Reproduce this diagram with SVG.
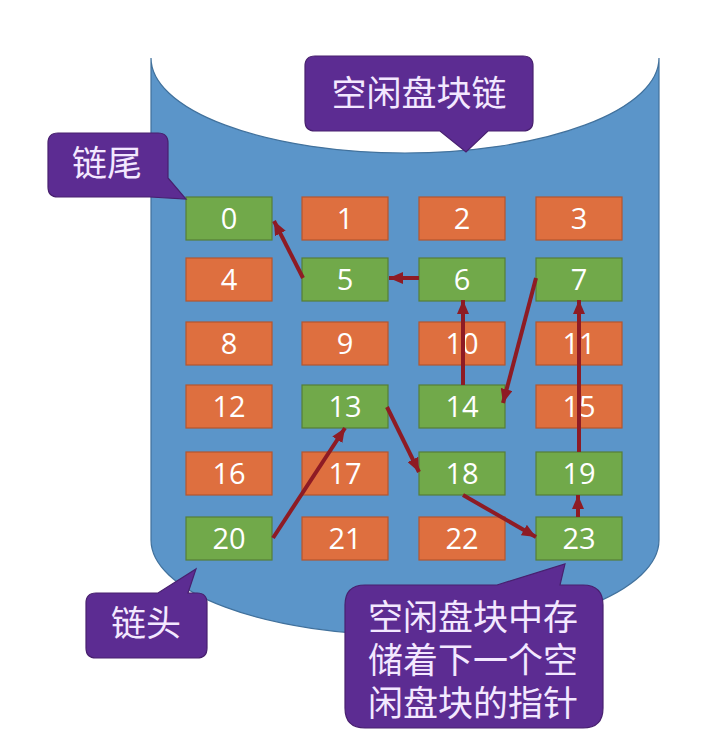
<svg xmlns="http://www.w3.org/2000/svg" width="711" height="743" viewBox="0 0 711 743">
<defs>
<style>
.box{stroke-width:1.2}
.o{fill:#DE6F3F;stroke:#B5552E}
.g{fill:#71A94A;stroke:#557F37}
.num{font-family:"Open Sans","Noto Sans",sans-serif;font-size:29px;fill:#FFFFFF;text-anchor:middle}
.call{fill:#5C2C92;stroke:#48206F;stroke-width:1.2}
.ct{font-family:"Noto Sans CJK SC","Noto Sans",sans-serif;font-size:35px;fill:#F3E8FF;text-anchor:middle}
.arr{stroke:#8E1B24;stroke-width:4;fill:none;marker-end:url(#ah)}
</style>
<marker id="ah" markerUnits="userSpaceOnUse" markerWidth="14" markerHeight="12" refX="14" refY="6" orient="auto">
<path d="M0,0 L14,6 L0,12 Z" fill="#8E1B24"/>
</marker>
</defs>
<rect width="711" height="743" fill="#FFFFFF"/>
<g id="cylinder">
<path d="M151,58 L151,540 A254,95 0 0 0 659,540 L659,58 A254,95 0 0 1 151,58 Z" fill="#5B95C9" stroke="#41719C" stroke-width="1.2"/>
</g>
<g id="b0"><rect class="box g" x="186" y="197" width="86" height="43"/><text class="num" x="229" y="229">0</text></g>
<g id="b1"><rect class="box o" x="302" y="197" width="86" height="43"/><text class="num" x="345" y="229">1</text></g>
<g id="b2"><rect class="box o" x="419" y="197" width="86" height="43"/><text class="num" x="462" y="229">2</text></g>
<g id="b3"><rect class="box o" x="536" y="197" width="86" height="43"/><text class="num" x="579" y="229">3</text></g>
<g id="b4"><rect class="box o" x="186" y="258" width="86" height="43"/><text class="num" x="229" y="290">4</text></g>
<g id="b5"><rect class="box g" x="302" y="258" width="86" height="43"/><text class="num" x="345" y="290">5</text></g>
<g id="b6"><rect class="box g" x="419" y="258" width="86" height="43"/><text class="num" x="462" y="290">6</text></g>
<g id="b7"><rect class="box g" x="536" y="258" width="86" height="43"/><text class="num" x="579" y="290">7</text></g>
<g id="b8"><rect class="box o" x="186" y="322" width="86" height="43"/><text class="num" x="229" y="354">8</text></g>
<g id="b9"><rect class="box o" x="302" y="322" width="86" height="43"/><text class="num" x="345" y="354">9</text></g>
<g id="b10"><rect class="box o" x="419" y="322" width="86" height="43"/><text class="num" x="462" y="354">10</text></g>
<g id="b11"><rect class="box o" x="536" y="322" width="86" height="43"/><text class="num" x="579" y="354">11</text></g>
<g id="b12"><rect class="box o" x="186" y="385" width="86" height="43"/><text class="num" x="229" y="417">12</text></g>
<g id="b13"><rect class="box g" x="302" y="385" width="86" height="43"/><text class="num" x="345" y="417">13</text></g>
<g id="b14"><rect class="box g" x="419" y="385" width="86" height="43"/><text class="num" x="462" y="417">14</text></g>
<g id="b15"><rect class="box o" x="536" y="385" width="86" height="43"/><text class="num" x="579" y="417">15</text></g>
<g id="b16"><rect class="box o" x="186" y="452" width="86" height="43"/><text class="num" x="229" y="484">16</text></g>
<g id="b17"><rect class="box o" x="302" y="452" width="86" height="43"/><text class="num" x="345" y="484">17</text></g>
<g id="b18"><rect class="box g" x="419" y="452" width="86" height="43"/><text class="num" x="462" y="484">18</text></g>
<g id="b19"><rect class="box g" x="536" y="452" width="86" height="43"/><text class="num" x="579" y="484">19</text></g>
<g id="b20"><rect class="box g" x="186" y="517" width="86" height="43"/><text class="num" x="229" y="549">20</text></g>
<g id="b21"><rect class="box o" x="302" y="517" width="86" height="43"/><text class="num" x="345" y="549">21</text></g>
<g id="b22"><rect class="box o" x="419" y="517" width="86" height="43"/><text class="num" x="462" y="549">22</text></g>
<g id="b23"><rect class="box g" x="536" y="517" width="86" height="43"/><text class="num" x="579" y="549">23</text></g>
<g id="connectors">
<line class="arr" x1="303" y1="278" x2="274" y2="221"/>
<line class="arr" x1="419" y1="278" x2="389" y2="278"/>
<line class="arr" x1="463" y1="385" x2="463" y2="300"/>
<line class="arr" x1="536" y1="278" x2="503" y2="403"/>
<line class="arr" x1="579" y1="452" x2="579" y2="300"/>
<line class="arr" x1="578" y1="517" x2="578" y2="495"/>
<line class="arr" x1="463" y1="495" x2="536" y2="537"/>
<line class="arr" x1="387" y1="407" x2="419" y2="472"/>
<line class="arr" x1="273" y1="538" x2="345" y2="428"/>
</g>
<g id="callout-chain">
<path class="call" d="M315,56 H523 Q533,56 533,66 V121 Q533,131 523,131 H488 L466,152 L440,131 H315 Q305,131 305,121 V66 Q305,56 315,56 Z"/>
<text class="ct" x="419" y="106">空闲盘块链</text>
</g>
<g id="callout-tail">
<path class="call" d="M58,133 H158 Q168,133 168,143 V178 L186,199 L150,197 H58 Q48,197 48,187 V143 Q48,133 58,133 Z"/>
<text class="ct" x="107" y="176">链尾</text>
</g>
<g id="callout-head">
<path class="call" d="M96,593 H158 L196,569 L188,593 H197 Q207,593 207,603 V648 Q207,658 197,658 H96 Q86,658 86,648 V603 Q86,593 96,593 Z"/>
<text class="ct" x="146" y="636">链头</text>
</g>
<g id="callout-pointer">
<path class="call" d="M365,585 H497 L565,564 L560,585 H583 Q603,585 603,605 V708 Q603,728 583,728 H365 Q345,728 345,708 V605 Q345,585 365,585 Z"/>
<text class="ct" x="473" y="630">空闲盘块中存</text>
<text class="ct" x="473" y="673">储着下一个空</text>
<text class="ct" x="473" y="716">闲盘块的指针</text>
</g>
</svg>
